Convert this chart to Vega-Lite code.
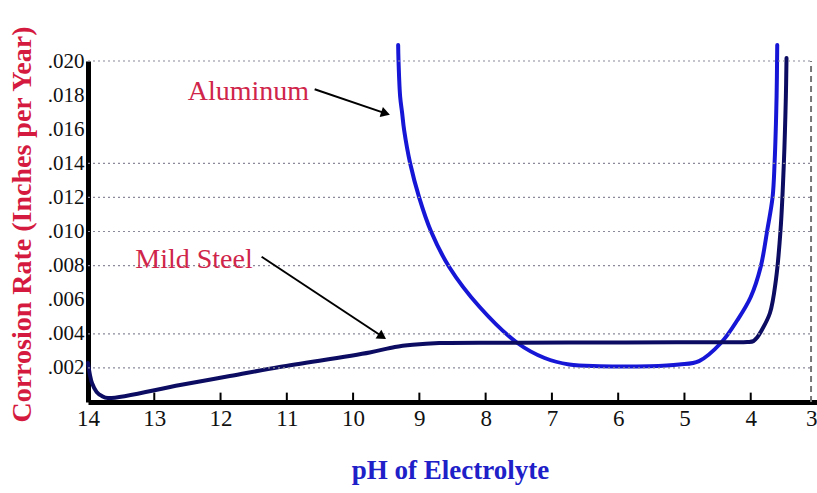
{
  "$schema": "https://vega.github.io/schema/vega-lite/v6.json",
  "autosize": "none",
  "padding": {"left": 88, "top": 61, "right": 0, "bottom": 91},
  "width": 729,
  "height": 341,
  "background": "white",
  "config": {
    "font": "Liberation Serif",
    "view": {"stroke": null}
  },
  "datasets": {
    "gridlines": [
      {"rate": 0.002}, {"rate": 0.004}, {"rate": 0.008}, {"rate": 0.010},
      {"rate": 0.012}, {"rate": 0.014}, {"rate": 0.020}
    ],
    "xticks": [
      {"pH": 13}, {"pH": 12}, {"pH": 11}, {"pH": 10}, {"pH": 9},
      {"pH": 8}, {"pH": 7}, {"pH": 6}, {"pH": 5}, {"pH": 4}
    ],
    "curves": [
      {"metal": "Aluminum", "pH": 9.32, "rate": 0.02094},
      {"metal": "Aluminum", "pH": 9.315, "rate": 0.02006},
      {"metal": "Aluminum", "pH": 9.29, "rate": 0.01791},
      {"metal": "Aluminum", "pH": 9.26, "rate": 0.01695},
      {"metal": "Aluminum", "pH": 9.23, "rate": 0.01595},
      {"metal": "Aluminum", "pH": 9.14, "rate": 0.01402},
      {"metal": "Aluminum", "pH": 9.00, "rate": 0.01196},
      {"metal": "Aluminum", "pH": 8.82, "rate": 0.00997},
      {"metal": "Aluminum", "pH": 8.55, "rate": 0.00792},
      {"metal": "Aluminum", "pH": 8.09, "rate": 0.00557},
      {"metal": "Aluminum", "pH": 7.52, "rate": 0.00346},
      {"metal": "Aluminum", "pH": 7.11, "rate": 0.00258},
      {"metal": "Aluminum", "pH": 6.74, "rate": 0.00220},
      {"metal": "Aluminum", "pH": 6.28, "rate": 0.00210},
      {"metal": "Aluminum", "pH": 5.53, "rate": 0.00210},
      {"metal": "Aluminum", "pH": 5.08, "rate": 0.00220},
      {"metal": "Aluminum", "pH": 4.78, "rate": 0.00240},
      {"metal": "Aluminum", "pH": 4.45, "rate": 0.00346},
      {"metal": "Aluminum", "pH": 4.20, "rate": 0.00481},
      {"metal": "Aluminum", "pH": 4.00, "rate": 0.00616},
      {"metal": "Aluminum", "pH": 3.85, "rate": 0.00792},
      {"metal": "Aluminum", "pH": 3.75, "rate": 0.01009},
      {"metal": "Aluminum", "pH": 3.67, "rate": 0.01202},
      {"metal": "Aluminum", "pH": 3.64, "rate": 0.01402},
      {"metal": "Aluminum", "pH": 3.61, "rate": 0.01789},
      {"metal": "Aluminum", "pH": 3.60, "rate": 0.02094},
      {"metal": "Mild Steel", "pH": 14.0, "rate": 0.00229},
      {"metal": "Mild Steel", "pH": 13.97, "rate": 0.00158},
      {"metal": "Mild Steel", "pH": 13.94, "rate": 0.00111},
      {"metal": "Mild Steel", "pH": 13.87, "rate": 0.00059},
      {"metal": "Mild Steel", "pH": 13.79, "rate": 0.00035},
      {"metal": "Mild Steel", "pH": 13.70, "rate": 0.00023},
      {"metal": "Mild Steel", "pH": 12.61, "rate": 0.00100},
      {"metal": "Mild Steel", "pH": 11.86, "rate": 0.00152},
      {"metal": "Mild Steel", "pH": 11.11, "rate": 0.00205},
      {"metal": "Mild Steel", "pH": 9.75, "rate": 0.00290},
      {"metal": "Mild Steel", "pH": 9.37, "rate": 0.00323},
      {"metal": "Mild Steel", "pH": 9.10, "rate": 0.00336},
      {"metal": "Mild Steel", "pH": 8.70, "rate": 0.00346},
      {"metal": "Mild Steel", "pH": 7.50, "rate": 0.00348},
      {"metal": "Mild Steel", "pH": 6.30, "rate": 0.00349},
      {"metal": "Mild Steel", "pH": 5.10, "rate": 0.00350},
      {"metal": "Mild Steel", "pH": 4.40, "rate": 0.00351},
      {"metal": "Mild Steel", "pH": 4.05, "rate": 0.00352},
      {"metal": "Mild Steel", "pH": 3.96, "rate": 0.00357},
      {"metal": "Mild Steel", "pH": 3.90, "rate": 0.00380},
      {"metal": "Mild Steel", "pH": 3.85, "rate": 0.00410},
      {"metal": "Mild Steel", "pH": 3.71, "rate": 0.00522},
      {"metal": "Mild Steel", "pH": 3.62, "rate": 0.00716},
      {"metal": "Mild Steel", "pH": 3.55, "rate": 0.01009},
      {"metal": "Mild Steel", "pH": 3.50, "rate": 0.01402},
      {"metal": "Mild Steel", "pH": 3.47, "rate": 0.01789},
      {"metal": "Mild Steel", "pH": 3.46, "rate": 0.02018}
    ],
    "labels": [
      {"label": "Aluminum", "pH": 11.58, "rate": 0.01818},
      {"label": "Mild Steel", "pH": 12.40, "rate": 0.00833}
    ],
    "arrows": [
      {"label": "Aluminum", "pH": 10.58, "rate": 0.01834, "pH2": 9.51, "rate2": 0.01693},
      {"label": "Mild Steel", "pH": 11.38, "rate": 0.00852, "pH2": 9.56, "rate2": 0.00384}
    ]
  },
  "layer": [
    {
      "data": {"name": "curves"},
      "mark": {"type": "line", "strokeWidth": 4, "strokeCap": "round", "strokeJoin": "round", "interpolate": "catmull-rom", "clip": false},
      "encoding": {
        "x": {
          "field": "pH", "type": "quantitative",
          "scale": {"domain": [14, 3], "nice": false, "zero": false},
          "axis": {
            "values": [14, 13, 12, 11, 10, 9, 8, 7, 6, 5, 4, 3],
            "tickCount": 20,
            "format": "d",
            "title": "pH of Electrolyte",
            "titleFont": "Liberation Serif", "titleFontSize": 27, "titleFontWeight": "bold", "titleColor": "#2020c8",
            "titleX": 362, "titleY": 68, "titleBaseline": "middle",
            "labelFont": "Liberation Serif", "labelFontSize": 23, "labelColor": "#111111",
            "labelPadding": 5, "labelFlush": false, "labelOverlap": false,
            "labelAlign": {"condition": {"test": "datum.value == 3", "value": "right"}, "value": "center"},
            "domainColor": "#000000", "domainWidth": 5,
            "ticks": false,
            "grid": false
          }
        },
        "y": {
          "field": "rate", "type": "quantitative",
          "scale": {"domain": [0, 0.02], "nice": false},
          "axis": {
            "values": [0.002, 0.004, 0.006, 0.008, 0.010, 0.012, 0.014, 0.016, 0.018, 0.020],
            "tickCount": 20,
            "labelExpr": "replace(format(datum.value, '.3f'), '0.', '.')",
            "labelOverlap": false,
            "title": "Corrosion Rate (Inches per Year)",
            "titleFont": "Liberation Serif", "titleFontSize": 28, "titleFontWeight": "bold", "titleColor": "#d51a40",
            "titleX": -66, "titleY": 163, "titleAlign": "center", "titleBaseline": "middle", "titleAngle": -90,
            "labelFont": "Liberation Serif", "labelFontSize": 21, "labelColor": "#111111",
            "labelPadding": 4,
            "ticks": false,
            "domainColor": "#000000", "domainWidth": 5,
            "grid": false
          }
        },
        "color": {
          "field": "metal", "type": "nominal",
          "scale": {"domain": ["Aluminum", "Mild Steel"], "range": ["#1616d6", "#0c0c62"]},
          "legend": null
        }
      }
    },
    {
      "data": {"name": "gridlines"},
      "mark": {"type": "rule", "color": "#8a8a9a", "strokeWidth": 1.2, "strokeDash": [2, 3]},
      "encoding": {
        "y": {"field": "rate", "type": "quantitative"},
        "x": {"datum": 14, "type": "quantitative"},
        "x2": {"datum": 3.09}
      }
    },
    {
      "data": {"name": "xticks"},
      "mark": {"type": "rule", "color": "#000000", "strokeWidth": 2},
      "encoding": {
        "x": {"field": "pH", "type": "quantitative"},
        "y": {"datum": 0, "type": "quantitative"},
        "y2": {"datum": 0.00055}
      }
    },
    {
      "data": {"values": [{}]},
      "mark": {"type": "rule", "color": "#777777", "strokeWidth": 2, "strokeDash": [6, 4]},
      "encoding": {
        "x": {"datum": 3.09, "type": "quantitative"},
        "y": {"datum": 0, "type": "quantitative"},
        "y2": {"datum": 0.02}
      }
    },
    {
      "data": {"name": "arrows"},
      "mark": {"type": "rule", "color": "#000000", "strokeWidth": 2},
      "encoding": {
        "x": {"field": "pH", "type": "quantitative"},
        "y": {"field": "rate", "type": "quantitative"},
        "x2": {"field": "pH2"},
        "y2": {"field": "rate2"}
      }
    },
    {
      "data": {"name": "arrows"},
      "transform": [{"filter": "datum.label == 'Aluminum'"}],
      "mark": {"type": "point", "shape": "triangle-right", "filled": true, "color": "#000000", "size": 110, "angle": 18.5, "opacity": 1},
      "encoding": {
        "x": {"field": "pH2", "type": "quantitative"},
        "y": {"field": "rate2", "type": "quantitative"}
      }
    },
    {
      "data": {"name": "arrows"},
      "transform": [{"filter": "datum.label == 'Mild Steel'"}],
      "mark": {"type": "point", "shape": "triangle-right", "filled": true, "color": "#000000", "size": 110, "angle": 33.5, "opacity": 1},
      "encoding": {
        "x": {"field": "pH2", "type": "quantitative"},
        "y": {"field": "rate2", "type": "quantitative"}
      }
    },
    {
      "data": {"name": "labels"},
      "mark": {"type": "text", "font": "Liberation Serif", "fontSize": 28, "color": "#d0254a", "align": "center", "baseline": "middle"},
      "encoding": {
        "x": {"field": "pH", "type": "quantitative"},
        "y": {"field": "rate", "type": "quantitative"},
        "text": {"field": "label"}
      }
    }
  ]
}
